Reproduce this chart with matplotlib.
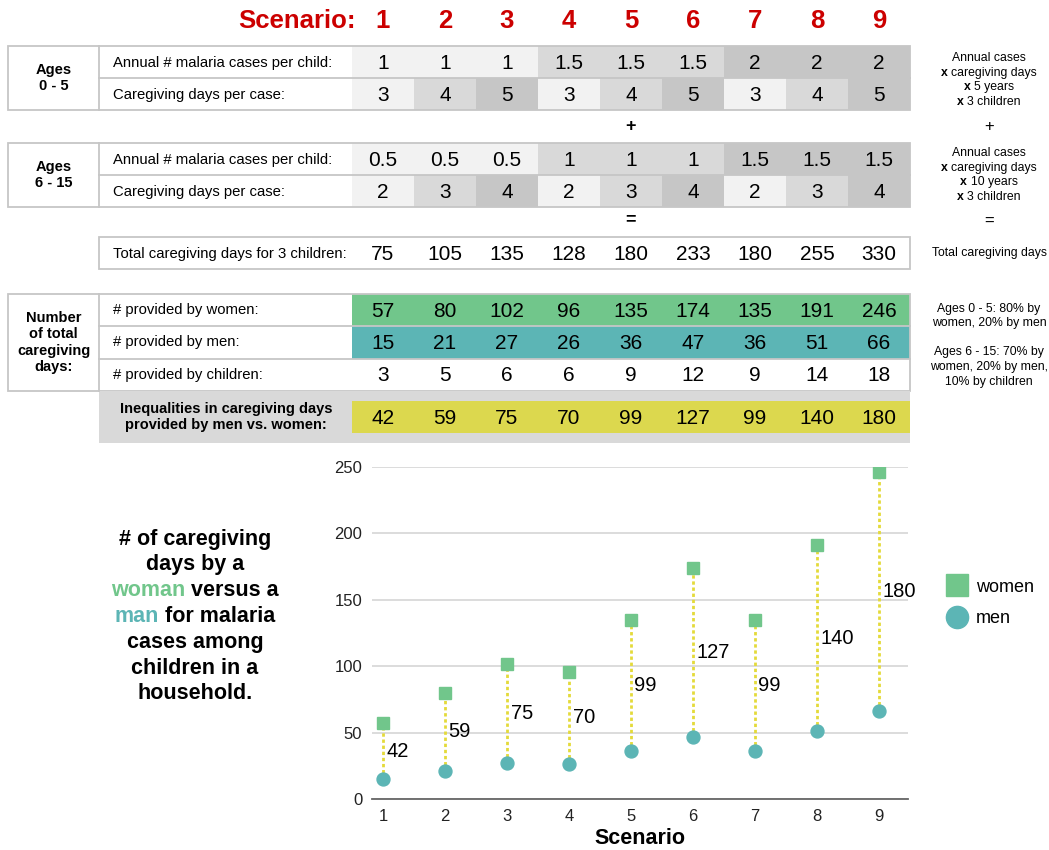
import matplotlib.pyplot as plt
from matplotlib.patches import Rectangle
from matplotlib.lines import Line2D

plt.rcParams['font.family'] = ['Liberation Sans', 'DejaVu Sans']

# scenario inputs and results
scenarios = [1, 2, 3, 4, 5, 6, 7, 8, 9]
cases_0_5 = [1, 1, 1, 1.5, 1.5, 1.5, 2, 2, 2]
days_0_5 = [3, 4, 5, 3, 4, 5, 3, 4, 5]
cases_6_15 = [0.5, 0.5, 0.5, 1, 1, 1, 1.5, 1.5, 1.5]
days_6_15 = [2, 3, 4, 2, 3, 4, 2, 3, 4]
total_days = [75, 105, 135, 128, 180, 233, 180, 255, 330]
women_days = [57, 80, 102, 96, 135, 174, 135, 191, 246]
men_days = [15, 21, 27, 26, 36, 47, 36, 51, 66]
children_days = [3, 5, 6, 6, 9, 12, 9, 14, 18]
gap_days = [42, 59, 75, 70, 99, 127, 99, 140, 180]

RED = '#cc0000'
GREEN = '#71c68b'
TEAL = '#5cb5b5'
YELLOW = '#dcd84e'
LINE_YELLOW = '#e4da3a'
BORDER = '#c6c6c6'
SHADES = ['#f2f2f2', '#d9d9d9', '#c6c6c6']

W, H = 1049, 850
fig = plt.figure(figsize=(W / 100, H / 100), dpi=100)
bg = fig.add_axes([0, 0, 1, 1])
bg.set_xlim(0, W)
bg.set_ylim(H, 0)
bg.axis('off')
renderer = fig.canvas.get_renderer()

X0, X_LAB, X_VAL, X_END = 8, 99, 352, 910
COL_W = (X_END - X_VAL) / len(scenarios)
col_x = [X_VAL + COL_W * (i + 0.5) for i in range(len(scenarios))]
VAL_SIZE = 15
LAB_SIZE = 10.7


def text_width(s, size, weight):
    t = bg.text(0, 0, s, fontsize=size, fontweight=weight)
    w = t.get_window_extent(renderer).width
    t.remove()
    return w


def mixed_line(xc, y, parts, size):
    # draw one centred line made of differently styled pieces
    space = text_width('x x', size, 'bold') - text_width('xx', size, 'bold')
    widths = [text_width(s, size, wt) for s, c, wt in parts]
    x = xc - (sum(widths) + space * (len(parts) - 1)) / 2
    for (s, c, wt), w in zip(parts, widths):
        bg.text(x, y, s, color=c, fontsize=size, fontweight=wt,
                ha='left', va='center')
        x += w + space


def shade_row(values, y, h):
    levels = sorted(set(values))
    for cx, v in zip(col_x, values):
        bg.add_patch(Rectangle((cx - COL_W / 2, y), COL_W, h,
                               color=SHADES[levels.index(v)], lw=0))
        bg.text(cx, y + h / 2 + 1, f'{v:g}', fontsize=VAL_SIZE,
                ha='center', va='center')


def box(x, y, w, h, fc='none'):
    bg.add_patch(Rectangle((x, y), w, h, fc=fc, ec=BORDER, lw=1.3))


# header
bg.text(356, 21, 'Scenario:', color=RED, fontsize=18.5, fontweight='bold',
        ha='right', va='center')
for cx, s in zip(col_x, scenarios):
    bg.text(cx, 21, str(s), color=RED, fontsize=18.5, fontweight='bold',
            ha='center', va='center')


def age_block(top, label, cases, days):
    rh = 32
    shade_row(cases, top, rh)
    shade_row(days, top + rh, rh)
    box(X0, top, X_END - X0, 2 * rh)
    bg.plot([X_LAB, X_END], [top + rh, top + rh], color=BORDER, lw=1.3)
    bg.plot([X_LAB, X_LAB], [top, top + 2 * rh], color=BORDER, lw=1.3)
    bg.text((X0 + X_LAB) / 2, top + rh, label, fontsize=10.5,
            fontweight='bold', ha='center', va='center', linespacing=1.15)
    bg.text(113, top + rh / 2 + 1, 'Annual # malaria cases per child:',
            fontsize=LAB_SIZE, va='center')
    bg.text(113, top + 1.5 * rh + 1, 'Caregiving days per case:',
            fontsize=LAB_SIZE, va='center')


age_block(46, 'Ages\n0 - 5', cases_0_5, days_0_5)
age_block(143, 'Ages\n6 - 15', cases_6_15, days_6_15)

bg.text(col_x[4], 126, '+', fontsize=13, fontweight='bold', ha='center', va='center')
bg.text(col_x[4], 220, '=', fontsize=13, fontweight='bold', ha='center', va='center')

# total row
box(X_LAB, 237, X_END - X_LAB, 32)
bg.text(113, 254, 'Total caregiving days for 3 children:', fontsize=LAB_SIZE, va='center')
for cx, v in zip(col_x, total_days):
    bg.text(cx, 254, str(v), fontsize=VAL_SIZE, ha='center', va='center')

# who provides the care
top, rh = 294, 32.3
rows = [('# provided by women:', women_days, GREEN),
        ('# provided by men:', men_days, TEAL),
        ('# provided by children:', children_days, 'white')]
for k, (lab, vals, col) in enumerate(rows):
    y = top + k * rh
    bg.add_patch(Rectangle((X_VAL, y), X_END - X_VAL, rh, color=col, lw=0))
    bg.text(113, y + rh / 2, lab, fontsize=LAB_SIZE, va='center')
    for cx, v in zip(col_x, vals):
        bg.text(cx, y + rh / 2 + 1, str(v), fontsize=VAL_SIZE, ha='center', va='center')
    if k:
        bg.plot([X_LAB, X_END], [y, y], color=BORDER, lw=1.3)
box(X0, top, X_END - X0, 3 * rh)
bg.plot([X_LAB, X_LAB], [top, top + 3 * rh], color=BORDER, lw=1.3)
bg.text((X0 + X_LAB) / 2, top + 1.5 * rh, 'Number\nof total\ncaregiving\ndays:',
        fontsize=10.5, fontweight='bold', ha='center', va='center', linespacing=1.22)

# inequality row
bg.add_patch(Rectangle((X_LAB, 391), X_END - X_LAB, 52, color='#d9d9d9', lw=0))
bg.add_patch(Rectangle((X_VAL, 401), X_END - X_VAL, 32, color=YELLOW, lw=0))
bg.text(226, 417, 'Inequalities in caregiving days\nprovided by men vs. women:',
        fontsize=10.5, fontweight='bold', ha='center', va='center', linespacing=1.15)
for cx, v in zip(col_x, gap_days):
    bg.text(cx, 418, str(v), fontsize=VAL_SIZE, ha='center', va='center')

# right-hand notes
RX, NS = 989, 8.8
for y0, years in [(58, '5 years'), (153, '10 years')]:
    mixed_line(RX, y0, [('Annual cases', 'black', 'normal')], NS)
    mixed_line(RX, y0 + 14.5, [('x', 'black', 'bold'), ('caregiving days', 'black', 'normal')], NS)
    mixed_line(RX, y0 + 29, [('x', 'black', 'bold'), (years, 'black', 'normal')], NS)
    mixed_line(RX, y0 + 43.5, [('x', 'black', 'bold'), ('3 children', 'black', 'normal')], NS)
bg.text(RX, 126, '+', fontsize=12, ha='center', va='center')
bg.text(RX, 221, '=', fontsize=12, ha='center', va='center')
bg.text(RX, 253, 'Total caregiving days', fontsize=NS, ha='center', va='center')
bg.text(RX, 316, 'Ages 0 - 5: 80% by\nwomen, 20% by men', fontsize=NS,
        ha='center', va='center', linespacing=1.3)
bg.text(RX, 367, 'Ages 6 - 15: 70% by\nwomen, 20% by men,\n10% by children', fontsize=NS,
        ha='center', va='center', linespacing=1.3)

# left caption
cap_lines = [[('# of caregiving', 'black')],
             [('days by a', 'black')],
             [('woman', GREEN), ('versus a', 'black')],
             [('man', TEAL), ('for malaria', 'black')],
             [('cases among', 'black')],
             [('children in a', 'black')],
             [('household.', 'black')]]
for k, parts in enumerate(cap_lines):
    mixed_line(195, 539 + k * 25.8, [(s, c, 'bold') for s, c in parts], 15.5)

# dumbbell chart
ax = fig.add_axes([372 / W, 51 / H, 536 / W, 332 / H])
ax.patch.set_alpha(0)
for s, w, m in zip(scenarios, women_days, men_days):
    ax.plot([s, s], [m, w], color=LINE_YELLOW, lw=2, ls=(0, (1.2, 1.0)), zorder=2)
for s, w, m, g in zip(scenarios, women_days, men_days, gap_days):
    ax.annotate(str(g), (s, (w + m) / 2), xytext=(2.5, 0), textcoords='offset points',
                fontsize=14.5, ha='left', va='center')
ax.plot(scenarios, women_days, 's', color=GREEN, ms=9, zorder=3)
ax.plot(scenarios, men_days, 'o', color=TEAL, ms=9.3, zorder=3)

ax.set_xlim(0.82, 9.47)
ax.set_ylim(0, 250)
ax.set_xticks(scenarios)
ax.set_yticks(range(0, 251, 50))
ax.grid(axis='y', color='#d9d9d9', lw=1.3)
ax.set_axisbelow(True)
for side in ['top', 'right', 'left']:
    ax.spines[side].set_visible(False)
ax.spines['bottom'].set_color('#666666')
ax.spines['bottom'].set_linewidth(1.3)
ax.tick_params(length=0, labelsize=12, colors='#222222')
ax.tick_params(axis='x', pad=7)
ax.tick_params(axis='y', pad=7)
ax.set_xlabel('Scenario', fontsize=15.5, fontweight='bold', labelpad=3)

handles = [Line2D([], [], marker='s', color=GREEN, ls='', ms=16),
           Line2D([], [], marker='o', color=TEAL, ls='', ms=16)]
fig.legend(handles, ['women', 'men'], loc='center left', frameon=False,
           bbox_to_anchor=(930 / W, 1 - 603 / H), fontsize=13,
           handletextpad=0.45, labelspacing=0.8, handlelength=1.2)

fig.savefig('out.png', dpi=100)
